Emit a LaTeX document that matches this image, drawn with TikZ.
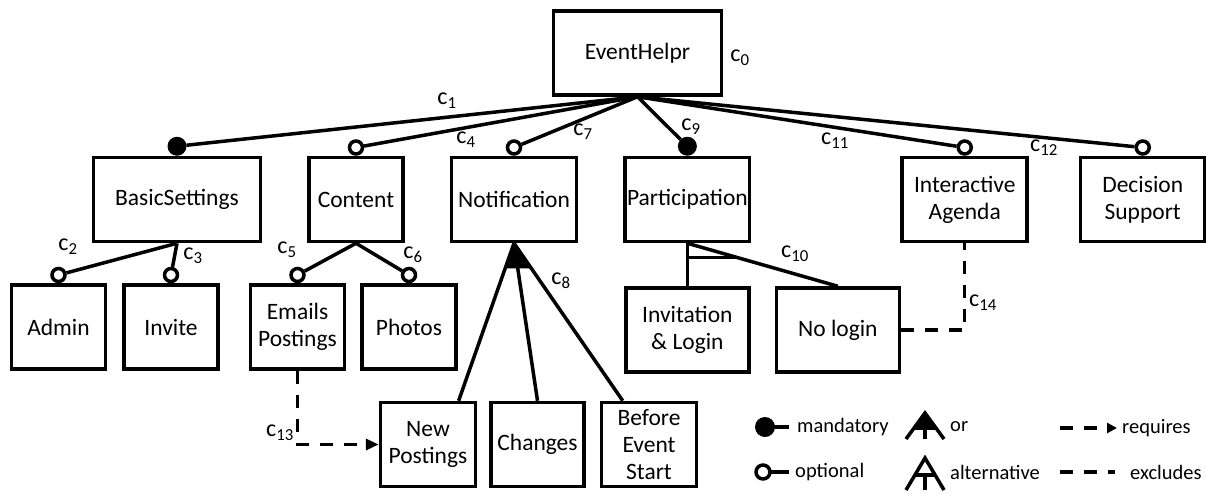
\documentclass[tikz,border=0pt]{standalone}
\usepackage{fontspec}
\setmainfont{Carlito}
\usetikzlibrary{arrows.meta}
\usetikzlibrary{positioning}
\usetikzlibrary{calc}

\begin{document}
\begin{tikzpicture}[x=1pt,y=1pt,
    feature/.style={draw, line width=3.5pt, minimum height=84pt, inner sep=2pt,
      align=center, font=\fontsize{23.5}{27}\selectfont},
    mand/.style={circle, fill=black, minimum size=19pt, inner sep=0pt, outer sep=0pt},
    opt/.style={circle, draw, fill=white, line width=3.5pt, minimum size=13pt, inner sep=0pt},
    rel/.style={line width=3.5pt},
    requires/.style={line width=3.5pt, dash pattern=on 13pt off 11pt,
      -{Triangle[length=13pt,width=11pt]}},
    excludes/.style={line width=3.5pt, dash pattern=on 13pt off 11pt},
    cst/.style={font=\fontsize{24}{24}\selectfont, inner sep=0pt},
    legend/.style={font=\fontsize{20.5}{20.5}\selectfont, anchor=west, inner sep=0pt}]
  \useasboundingbox (0,0) rectangle (1206,-493);

  % features
  \node[feature, minimum width=168pt] (root) at (637.5,-53) {EventHelpr};
  \node[feature, minimum width=167pt] (bs) at (177,-199.5) {BasicSettings};
  \node[feature, minimum width=94pt, right=45pt of bs] (ct) {Content};
  \node[feature, minimum width=125pt, right=45pt of ct] (nt) {Notification};
  \node[feature, minimum width=123pt, right=45pt of nt] (pa) {Participation};
  \node[feature, minimum width=125pt, right=149pt of pa] (ia) {Interactive\\Agenda};
  \node[feature, minimum width=124pt, right=50pt of ia] (ds) {Decision\\Support};

  \node[feature, minimum width=94pt] (ad) at (58.5,-327) {Admin};
  \node[feature, minimum width=94pt, right=15pt of ad] (iv) {Invite};
  \node[feature, minimum width=94pt, right=29pt of iv] (em) {Emails\\Postings};
  \node[feature, minimum width=94pt, right=14pt of em] (ph) {Photos};
  \node[feature, minimum width=123pt, below=43pt of pa] (il) {Invitation\\\& Login};
  \node[feature, minimum width=123pt, right=24pt of il] (nl) {No login};

  \node[feature, minimum width=95pt] (np) at (428,-444.5) {New\\Postings};
  \node[feature, minimum width=93pt, right=12pt of np] (ch) {Changes};
  \node[feature, minimum width=95pt, right=14pt of ch] (be) {Before\\Event\\Start};

  % mandatory / optional ends
  \node[mand, above=0pt of bs] (bs-c) {};
  \node[opt, above=0pt of ct] (ct-c) {};
  \node[opt, above=0pt of nt] (nt-c) {};
  \node[mand, above=0pt of pa] (pa-c) {};
  \node[opt, above=0pt of ia] (ia-c) {};
  \node[opt, above=0pt of ds] (ds-c) {};
  \node[opt, above=0pt of ad] (ad-c) {};
  \node[opt, above=0pt of iv] (iv-c) {};
  \node[opt, above=0pt of em] (em-c) {};
  \node[opt, above=0pt of ph] (ph-c) {};

  \foreach \c in {bs-c,ct-c,nt-c,pa-c,ia-c,ds-c}
    \draw[rel] (root.south) -- (\c);
  \draw[rel] (bs.south) -- (ad-c);
  \draw[rel] (bs.south) -- (iv-c);
  \draw[rel] (ct.south) -- (em-c);
  \draw[rel] (ct.south) -- (ph-c);

  % or group
  \draw[rel] (nt.south) -- (np.55);
  \draw[rel] (nt.south) -- (ch.north);
  \draw[rel] (nt.south) -- (be.121);
  \fill ($(nt.south)!0.16!(np.55)$) -- (nt.south) -- ($(nt.south)!0.16!(be.121)$) -- cycle;

  % alternative group
  \draw[rel] (pa.south) -- (il.north);
  \draw[rel] (pa.south) -- (nl.north);
  \draw[rel] ($(pa.south)!0.33!(il.north)$) -- ($(pa.south)!0.33!(nl.north)$);

  % cross-tree constraints
  \draw[requires] (em.south) |- (np.west);
  \draw[excludes] (nl.east) -| (ia.south);

  % constraint labels
  \node[cst] (c0) at (740,-58) {c\textsubscript{0}};
  \node[cst] (c1) at (447,-101) {c\textsubscript{1}};
  \node[cst] (c2) at (68,-247) {c\textsubscript{2}};
  \node[cst] (c3) at (193,-256) {c\textsubscript{3}};
  \node[cst] (c4) at (466,-140) {c\textsubscript{4}};
  \node[cst] (c5) at (287,-250) {c\textsubscript{5}};
  \node[cst] (c6) at (413,-255) {c\textsubscript{6}};
  \node[cst] (c7) at (583,-132) {c\textsubscript{7}};
  \node[cst] (c8) at (561,-281) {c\textsubscript{8}};
  \node[cst] (c9) at (691,-127) {c\textsubscript{9}};
  \node[cst] (c10) at (795,-254) {c\textsubscript{10}};
  \node[cst] (c11) at (835,-141) {c\textsubscript{11}};
  \node[cst] (c12) at (1044,-148) {c\textsubscript{12}};
  \node[cst] (c13) at (280,-433) {c\textsubscript{13}};
  \node[cst] (c14) at (983,-303) {c\textsubscript{14}};

  % legend
  \fill (765,-427) circle (10pt);
  \draw[rel] (770,-427) -- (789,-427);
  \node[legend] (lmand) at (797,-427) {mandatory};
  \draw[rel] (770,-472) -- (789,-472);
  \draw[line width=3.5pt, fill=white] (763,-472) circle (7pt);
  \node[legend] (lopt) at (795,-472) {optional};

  \draw[rel] (906,-439) -- (925,-413) -- (944,-439);
  \fill (925,-413) -- ($(925,-413)!0.65!(906,-439)$) -- ($(925,-413)!0.65!(944,-439)$) -- cycle;
  \draw[rel] (925,-430) -- (925,-439);
  \node[legend] (lor) at (950,-427) {or};

  \draw[rel] (906,-490) -- (925,-458) -- (944,-490);
  \draw[rel] (915,-475) -- (935,-475);
  \draw[rel] (925,-475) -- (925,-490);
  \node[legend] (lalt) at (950,-472) {alternative};

  \draw[requires, -{Triangle[length=10pt,width=10pt]}] (1060,-428) -- (1117,-428);
  \node[legend] (lreq) at (1122,-428) {requires};
  \draw[excludes] (1060,-472) -- (1115,-472);
  \node[legend] (lexc) at (1130,-472) {excludes};
\end{tikzpicture}
\end{document}
